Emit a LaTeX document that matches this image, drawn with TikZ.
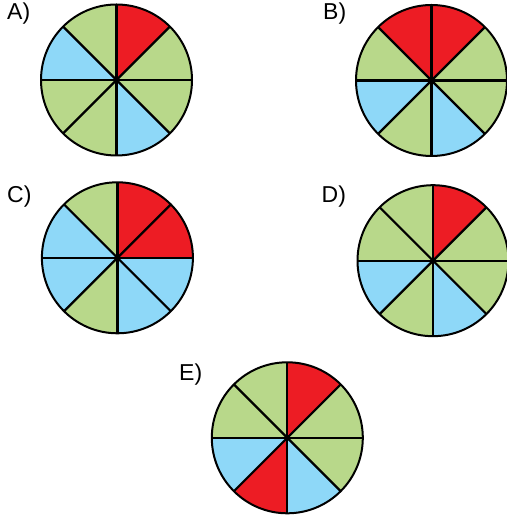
\documentclass[tikz,border=0pt]{standalone}
\usepackage{fontspec}
\setmainfont{Liberation Sans}
\definecolor{pred}{RGB}{237,28,36}
\definecolor{pgreen}{RGB}{184,216,138}
\definecolor{pblue}{RGB}{142,216,248}
\tikzset{
  lbl/.style={anchor=base west, inner sep=0pt, font=\fontsize{23}{23}\selectfont},
  rim/.style={draw=black, line width=2pt},
  spoke/.style={draw=black, line width=2.2pt}
}
\newcommand{\mypie}[4]{%
  \coordinate (#1) at (#2pt,#3pt);
  \begin{scope}[shift={(#1)}]
    \foreach \c [count=\i from 0] in {#4} {
      \fill[\c] (0,0) -- ({90-45*\i}:75.5pt) arc[start angle={90-45*\i}, end angle={45-45*\i}, radius=75.5pt] -- cycle;
    }
    \foreach \a in {0,45,...,315} \draw[spoke] (0,0) -- (\a:75.5pt);
    \draw[rim] (0,0) circle (75.5pt);
    \fill (0,0) circle (3pt);
  \end{scope}}
\begin{document}
\begin{tikzpicture}[x=1pt,y=1pt]
\useasboundingbox (0,0) rectangle (506,518);
\mypie{pA}{116.5}{438}{pred,pgreen,pgreen,pblue,pgreen,pgreen,pblue,pgreen}
\mypie{pB}{431.5}{437.5}{pred,pgreen,pgreen,pblue,pgreen,pblue,pgreen,pred}
\mypie{pC}{117.4}{260.2}{pred,pred,pblue,pblue,pgreen,pblue,pblue,pgreen}
\mypie{pD}{433}{257.3}{pred,pgreen,pgreen,pblue,pgreen,pblue,pgreen,pgreen}
\mypie{pE}{287.3}{80.2}{pred,pgreen,pgreen,pblue,pred,pblue,pgreen,pgreen}
\node[lbl] (lA) at (7,498.5) {A)};
\node[lbl] (lB) at (323,498.5) {B)};
\node[lbl] (lC) at (7,315.5) {C)};
\node[lbl] (lD) at (321.5,315.5) {D)};
\node[lbl] (lE) at (179,137) {E)};
\end{tikzpicture}
\end{document}
